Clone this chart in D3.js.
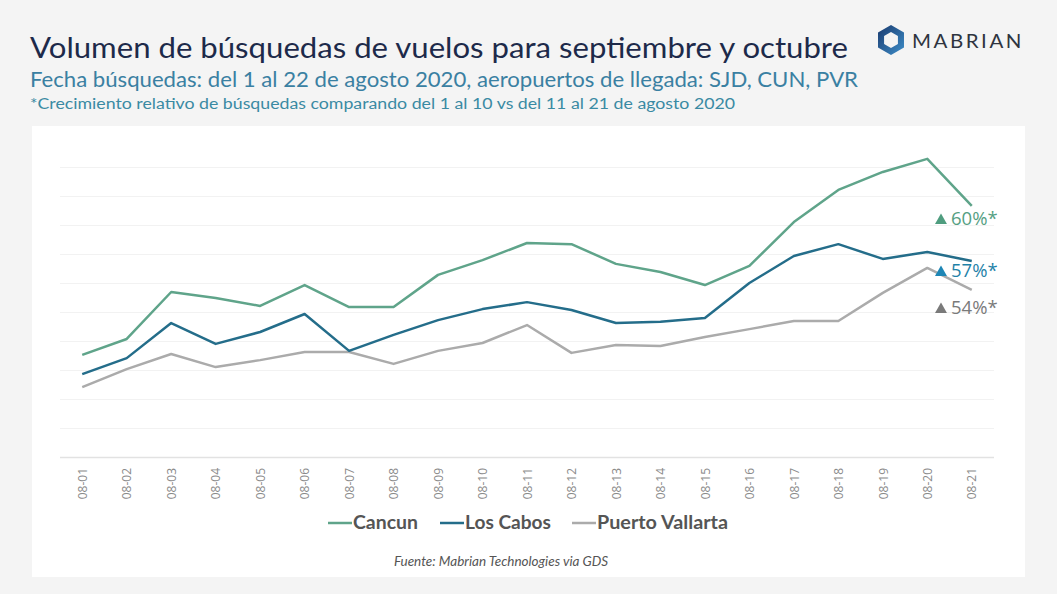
<!DOCTYPE html>
<html>
<head>
<meta charset="utf-8">
<script src="https://cdn.jsdelivr.net/npm/d3@7.9.0/dist/d3.min.js"></script>
<style>
  html, body { margin: 0; padding: 0; background: #f4f4f4; }
  svg { display: block; font-family: Lato, "Open Sans", sans-serif; }
</style>
</head>
<body>
<svg id="chart" width="1057" height="594"></svg>
<script>
const days = ["08-01", "08-02", "08-03", "08-04", "08-05", "08-06", "08-07", "08-08", "08-09", "08-10", "08-11",
    "08-12", "08-13", "08-14", "08-15", "08-16", "08-17", "08-18", "08-19", "08-20", "08-21"];
const cancun = [3.52, 4.07, 5.69, 5.48, 5.21, 5.93, 5.17, 5.17, 6.28, 6.79, 7.38,
    7.34, 6.66, 6.38, 5.93, 6.59, 8.10, 9.21, 9.83, 10.28, 8.66];
const losCabos = [2.86, 3.41, 4.62, 3.90, 4.31, 4.93, 3.66, 4.21, 4.72, 5.10, 5.34,
    5.07, 4.62, 4.66, 4.79, 6.00, 6.93, 7.34, 6.83, 7.07, 6.76];
const puertoVallarta = [2.41, 3.03, 3.55, 3.10, 3.34, 3.62, 3.62, 3.21, 3.66, 3.93, 4.55,
    3.59, 3.86, 3.83, 4.14, 4.41, 4.69, 4.69, 5.66, 6.52, 5.76];
const seriesNames = ["Cancun", "Los Cabos", "Puerto Vallarta"];
const growth = ["60%*", "57%*", "54%*"];

const colors = ["#5fa48a", "#246d8a", "#ababab"];
const noteColors = ["#55a083", "#1f82a8", "#7a7a7a"];
const triColors = ["#4f9d7f", "#1e86b5", "#7a7a7a"];

const svg = d3.select("#chart");

// background and white panel
svg.append("rect").attr("width", 1057).attr("height", 594).attr("fill", "#f4f4f4");
svg.append("rect").attr("x", 32).attr("y", 126).attr("width", 993).attr("height", 451).attr("fill", "#ffffff");

// titles
svg.append("text").attr("x", 30).attr("y", 58)
    .attr("fill", "#1d2a4a").style("font-size", "29px")
    .attr("textLength", 818).attr("lengthAdjust", "spacingAndGlyphs")
    .text("Volumen de búsquedas de vuelos para septiembre y octubre");
svg.append("text").attr("x", 30).attr("y", 87)
    .attr("fill", "#3a80a2").style("font-size", "21px")
    .attr("textLength", 828).attr("lengthAdjust", "spacingAndGlyphs")
    .text("Fecha búsquedas: del 1 al 22 de agosto 2020, aeropuertos de llegada: SJD, CUN, PVR");
svg.append("text").attr("x", 30).attr("y", 109)
    .attr("fill", "#3a8aa3").style("font-size", "15.5px")
    .attr("textLength", 705).attr("lengthAdjust", "spacingAndGlyphs")
    .text("*Crecimiento relativo de búsquedas comparando del 1 al 10 vs del 11 al 21 de agosto 2020");

// logo
const logo = svg.append("g").attr("transform", "translate(891,40)");
const hex = (r) => d3.range(6).map(i => {
    const a = Math.PI / 3 * i - Math.PI / 2;
    return [r * Math.cos(a), r * Math.sin(a)];
});
const ringPath = "M" + hex(15).join("L") + "Z M" + hex(8).reverse().join("L") + "Z";
const grad = svg.append("defs").append("linearGradient").attr("id", "lg")
    .attr("x1", 0).attr("y1", 0).attr("x2", 1).attr("y2", 1);
grad.append("stop").attr("offset", 0).attr("stop-color", "#1a3a6e");
grad.append("stop").attr("offset", 1).attr("stop-color", "#3d8ec9");
logo.append("path").attr("d", ringPath).attr("fill", "url(#lg)").attr("fill-rule", "evenodd");
svg.append("text").attr("x", 912).attr("y", 48)
    .attr("fill", "#2e3440").style("font-size", "20px").style("letter-spacing", "2.5px")
    .attr("textLength", 112).attr("lengthAdjust", "spacingAndGlyphs")
    .text("MABRIAN");

// scales
const x = d3.scalePoint().domain(days).range([60, 994]).padding(0.5);
const y = d3.scaleLinear().domain([0, 10]).range([457, 167]);

// grid
const grid = svg.append("g")
    .attr("transform", "translate(60,0)")
    .call(d3.axisLeft(y).ticks(10).tickSize(-934).tickFormat(""));
grid.select(".domain").remove();
grid.selectAll(".tick line").attr("stroke", "#f2f2f2").attr("stroke-width", 1);
grid.selectAll(".tick").filter(d => d === 0).select("line").attr("stroke", "#e2e2e2").attr("stroke-width", 1.5);

// x axis
const xAxis = svg.append("g")
    .attr("transform", "translate(0,457)")
    .call(d3.axisBottom(x).tickSize(0).tickPadding(0));
xAxis.select(".domain").remove();
xAxis.selectAll("text")
    .attr("transform", "rotate(-90)")
    .attr("text-anchor", "end")
    .attr("x", -11)
    .attr("y", 0)
    .attr("dy", "0.35em")
    .attr("fill", "#8a8a8a")
    .style("font-family", "'Open Sans', sans-serif")
    .style("font-size", "12px");

// lines
const allSeries = [cancun, losCabos, puertoVallarta];
const line = d3.line().x((d, i) => x(days[i])).y(d => y(d));
// draw grey first, then blue, then green on top
[2, 1, 0].forEach(k => {
    svg.append("path")
        .datum(allSeries[k])
        .attr("fill", "none")
        .attr("stroke", colors[k])
        .attr("stroke-width", 2.5)
        .attr("stroke-linejoin", "round")
        .attr("d", line);
});

// growth annotations
const noteY = [219, 271, 308];
growth.forEach((g, k) => {
    const gx = 935;
    svg.append("path")
        .attr("d", d3.symbol().type(d3.symbolTriangle).size(62)())
        .attr("transform", "translate(" + (gx + 6) + "," + (noteY[k] + 1.5) + ")")
        .attr("fill", triColors[k]);
    svg.append("text")
        .attr("x", gx + 16).attr("y", noteY[k])
        .attr("dy", "0.35em")
        .attr("fill", noteColors[k])
        .style("font-family", "'Open Sans', sans-serif")
        .style("font-size", "18.5px")
        .text(g);
});

// legend
const legendX = [328, 440, 572];
const legendW = [65, 86, 131];
seriesNames.forEach((n, k) => {
    svg.append("line")
        .attr("x1", legendX[k]).attr("x2", legendX[k] + 24)
        .attr("y1", 523).attr("y2", 523)
        .attr("stroke", colors[k]).attr("stroke-width", 2.5);
    svg.append("text")
        .attr("x", legendX[k] + 25).attr("y", 523)
        .attr("dy", "0.36em")
        .attr("fill", "#555")
        .style("font-size", "18px").style("font-weight", "bold")
        .attr("textLength", legendW[k]).attr("lengthAdjust", "spacingAndGlyphs")
        .text(n);
});

// source
svg.append("text").attr("x", 501).attr("y", 566)
    .attr("text-anchor", "middle")
    .attr("fill", "#555").style("font-size", "13.5px").style("font-style", "italic")
    .text("Fuente: Mabrian Technologies via GDS");
</script>
</body>
</html>
